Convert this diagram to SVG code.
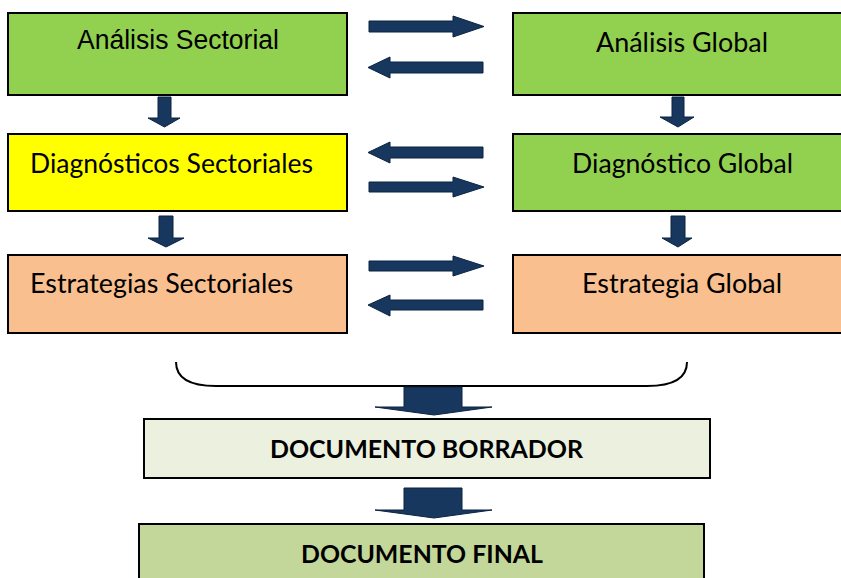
<svg xmlns="http://www.w3.org/2000/svg" width="841" height="578" viewBox="0 0 841 578">
<style>
.box{stroke:#000;stroke-width:2}
.arr{fill:#17375E;stroke:#0d2340;stroke-width:1}
.ta{font-family:"Liberation Sans",Arial,sans-serif;font-size:27px;fill:#000}
.tc{font-family:Lato,"Open Sans","Liberation Sans",sans-serif;font-size:27px;fill:#000}
.tb{font-family:Lato,"Open Sans","Liberation Sans",sans-serif;font-size:25px;font-weight:bold;fill:#000}
</style>
<rect width="841" height="578" fill="#fff"/>
<g id="analisis-sectorial">
<rect class="box" x="8" y="13" width="339" height="82" fill="#92D050"/>
<text class="ta" x="77" y="49" textLength="202" lengthAdjust="spacingAndGlyphs">Análisis Sectorial</text>
</g>
<g id="analisis-global">
<rect class="box" x="513" y="13" width="340" height="82" fill="#92D050"/>
<text class="tc" x="596" y="52" textLength="172" lengthAdjust="spacingAndGlyphs">Análisis Global</text>
</g>
<g id="diagnosticos-sectoriales">
<rect class="box" x="8" y="134" width="339" height="77" fill="#FFFF00"/>
<text class="tc" x="30" y="173" textLength="283" lengthAdjust="spacingAndGlyphs">Diagnósticos Sectoriales</text>
</g>
<g id="diagnostico-global">
<rect class="box" x="513" y="134" width="340" height="77" fill="#92D050"/>
<text class="tc" x="572" y="173" textLength="221" lengthAdjust="spacingAndGlyphs">Diagnóstico Global</text>
</g>
<g id="estrategias-sectoriales">
<rect class="box" x="8" y="255" width="339" height="78" fill="#F9BF8F"/>
<text class="tc" x="30" y="293" textLength="263" lengthAdjust="spacingAndGlyphs">Estrategias Sectoriales</text>
</g>
<g id="estrategia-global">
<rect class="box" x="513" y="255" width="340" height="78" fill="#F9BF8F"/>
<text class="tc" x="582" y="293" textLength="200" lengthAdjust="spacingAndGlyphs">Estrategia Global</text>
</g>
<g id="documento-borrador">
<rect class="box" x="144" y="419" width="566" height="59" fill="#EBF1DE"/>
<text class="tb" x="270" y="458" textLength="313" lengthAdjust="spacingAndGlyphs">DOCUMENTO BORRADOR</text>
</g>
<g id="documento-final">
<rect class="box" x="139" y="524" width="565" height="70" fill="#C4D79B"/>
<text class="tb" x="301" y="563" textLength="242" lengthAdjust="spacingAndGlyphs">DOCUMENTO FINAL</text>
</g>
<g id="connectors">
<!-- row 1 -->
<path class="arr" d="M369,21 H453 V16 L484,26.5 L453,37 V32 H369 Z"/>
<path class="arr" d="M483,62 H390 V57 L368,67.5 L390,78 V73 H483 Z"/>
<!-- row 2 -->
<path class="arr" d="M483,147 H390 V142 L368,152.5 L390,163 V158 H483 Z"/>
<path class="arr" d="M369,182 H453 V177 L484,187 L453,197 V192 H369 Z"/>
<!-- row 3 -->
<path class="arr" d="M369,261 H453 V256 L484,266 L453,276 V271 H369 Z"/>
<path class="arr" d="M483,300 H390 V295 L368,305 L390,316 V310 H483 Z"/>
<!-- vertical small arrows -->
<path class="arr" d="M158,97 H171 V118 H180 L164.5,127 L148,118 H158 Z"/>
<path class="arr" d="M672,97 H684 V117 H694 L678,127 L660,117 H672 Z"/>
<path class="arr" d="M159,216 H173 V238 H184 L166,247 L148,238 H159 Z"/>
<path class="arr" d="M671,216 H685 V238 H692 L678,247 L662,238 H671 Z"/>
<!-- brace -->
<path d="M176,362 C176,379 190,386 216,386 H647 C673,386 687,379 687,362" fill="none" stroke="#000" stroke-width="2"/>
<!-- big arrows -->
<path class="arr" d="M404,387 H462 V407 H492 L434,415 L375,407 H404 Z"/>
<path class="arr" d="M404,488 H462 V510 H492 L434,518 L375,510 H404 Z"/>
</g>
</svg>
